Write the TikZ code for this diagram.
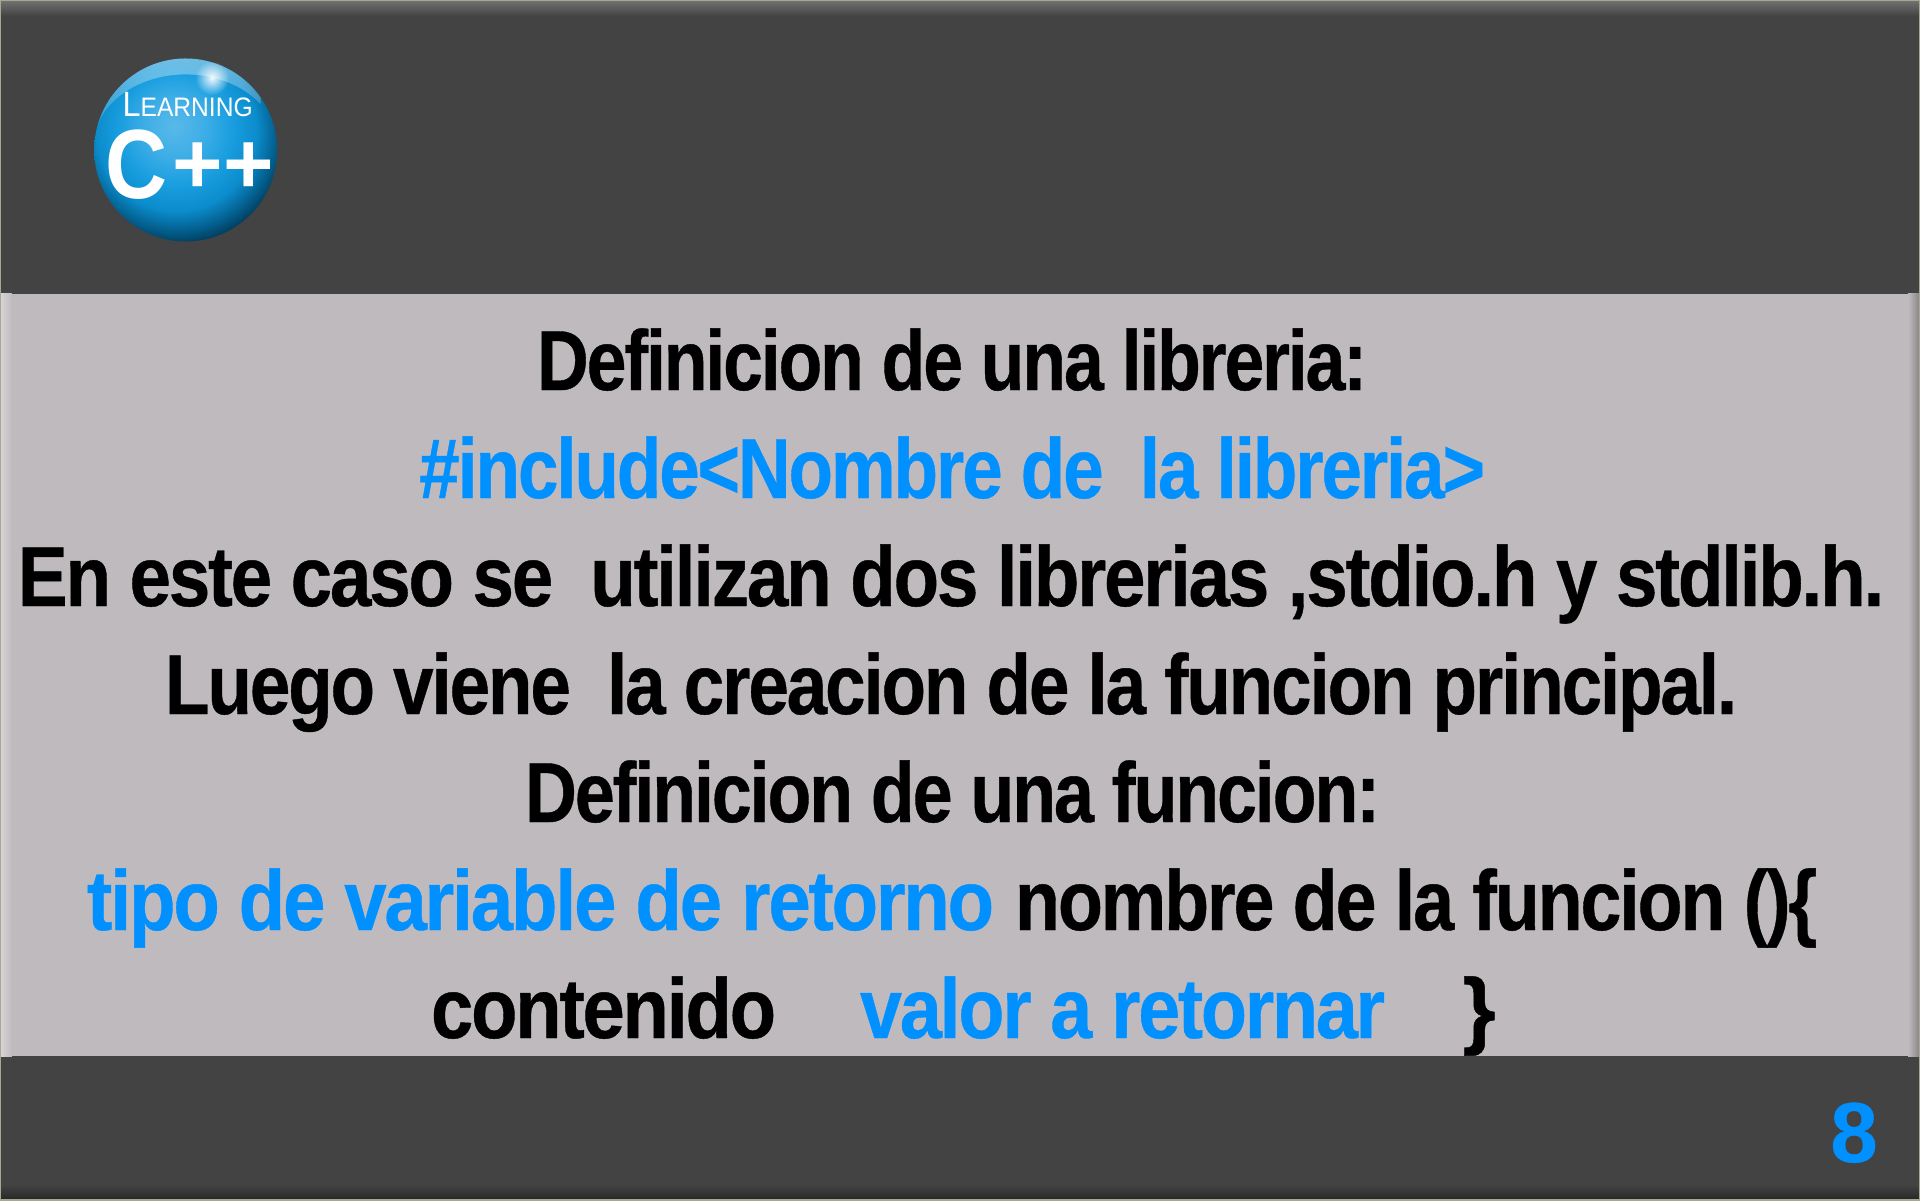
\documentclass[tikz,border=0pt]{standalone}
\usepackage{fontspec}
\usepackage{graphicx}
\setmainfont{Liberation Sans}
\newfontfamily\slidefont[LetterSpace=-3,FakeBold=0.5]{Liberation Sans Bold}
\newfontfamily\ballfont{Liberation Sans Bold}
\usetikzlibrary{fadings}
\definecolor{bandgray}{HTML}{434343}
\definecolor{panelgray}{HTML}{BEBABD}
\definecolor{edgeolive}{HTML}{A8A890}
\definecolor{textblue}{HTML}{0090FF}
\definecolor{ballA}{HTML}{58B9E9}
\definecolor{ballB}{HTML}{3FAEE6}
\definecolor{ballC}{HTML}{1B9FE0}
\definecolor{ballD}{HTML}{0B8CCC}
\definecolor{ballE}{HTML}{035F8E}
\definecolor{ballF}{HTML}{002C44}
\pgfdeclareradialshading{ballshade}{\pgfpoint{-3.3bp}{6.8bp}}{
  color(0bp)=(ballA);
  color(8bp)=(ballB);
  color(15bp)=(ballC);
  color(22bp)=(ballD);
  color(27bp)=(ballE);
  color(32bp)=(ballF);
  color(100bp)=(ballF)}
\tikzfading[name=softglow, inner color=transparent!0, outer color=transparent!100]
\newcommand{\fitw}[2]{\resizebox{#1}{\height}{#2}}
\tikzset{
  slideline/.style={anchor=base, inner sep=0pt, font=\slidefont\fontsize{24.2pt}{28pt}\selectfont},
  ballword/.style={anchor=base west, inner sep=0pt, text=white},
}
\begin{document}
\begin{tikzpicture}
    \useasboundingbox (0,0) rectangle (19.2,12);
    \fill[bandgray] (0,0) rectangle (19.2,12);
    \fill[panelgray] (0,1.44) rectangle (19.2,9.06);
    \shade[top color=black!55!white, bottom color=bandgray] (0,12) rectangle (19.2,11.84);
    \shade[top color=bandgray, bottom color=black!85] (0,0.15) rectangle (19.2,0);
    \shade[left color=panelgray!60!white, right color=panelgray] (0,1.44) rectangle (0.12,9.06);
    \shade[left color=panelgray, right color=panelgray!70!black] (19.08,1.44) rectangle (19.2,9.06);
    \draw[edgeolive, line width=0.6pt] (0,0) rectangle (19.2,12);

    \shade[shading=ballshade] (1.857,10.5) circle (0.915);
    \fill[white, opacity=0.45, path fading=south] (1.857,10.5) ++(35:0.915) arc (35:165:0.915) arc (165:35:0.915 and 0.7);
    \fill[white, opacity=0.95, path fading=softglow] (2.12,11.22) circle (0.17);
    \node[ballword] (learn) at (1.22,10.83) {\fitw{1.30cm}{\fontsize{10pt}{10pt}\selectfont L\fontsize{7.6pt}{10pt}\selectfont EARNING}};
    \node[ballword] (cee) at (1.05,10.01) {\fitw{0.62cm}{\ballfont\fontsize{28pt}{28pt}\selectfont C}};
    \node[ballword] (plus) at (1.72,10.06) {\ballfont\fontsize{24.6pt}{28pt}\selectfont ++};

    \node[slideline] (title) at (9.52,8.10) {\fitw{8.30cm}{Definicion de una libreria:}};
    \node[slideline, text=textblue] (syntax) at (9.52,7.02) {\fitw{10.66cm}{\#include<Nombre de\ \ la libreria>}};
    \node[slideline] (twolibs) at (9.51,5.94) {\fitw{18.66cm}{En este caso se\ \ utilizan dos librerias ,stdio.h y stdlib.h.}};
    \node[slideline] (mainfn) at (9.51,4.86) {\fitw{15.72cm}{Luego viene\ \ la creacion de la funcion principal.}};
    \node[slideline] (fntitle) at (9.525,3.78) {\fitw{8.55cm}{Definicion de una funcion:}};
    \node[slideline, text=textblue] (rettype) at (5.405,2.70) {\fitw{9.07cm}{tipo de variable de retorno}};
    \node[slideline] (fnname) at (14.16,2.70) {\fitw{8.02cm}{nombre de la funcion ()\{}};
    \node[slideline] (body) at (6.035,1.62) {\fitw{3.45cm}{contenido}};
    \node[slideline, text=textblue] (retval) at (11.225,1.62) {\fitw{5.25cm}{valor a retornar}};
    \node[slideline] (brace) at (14.79,1.62) {\}};

    \node[slideline, text=textblue] (pagenum) at (18.54,0.38) {8};
  \end{tikzpicture}
\end{document}
